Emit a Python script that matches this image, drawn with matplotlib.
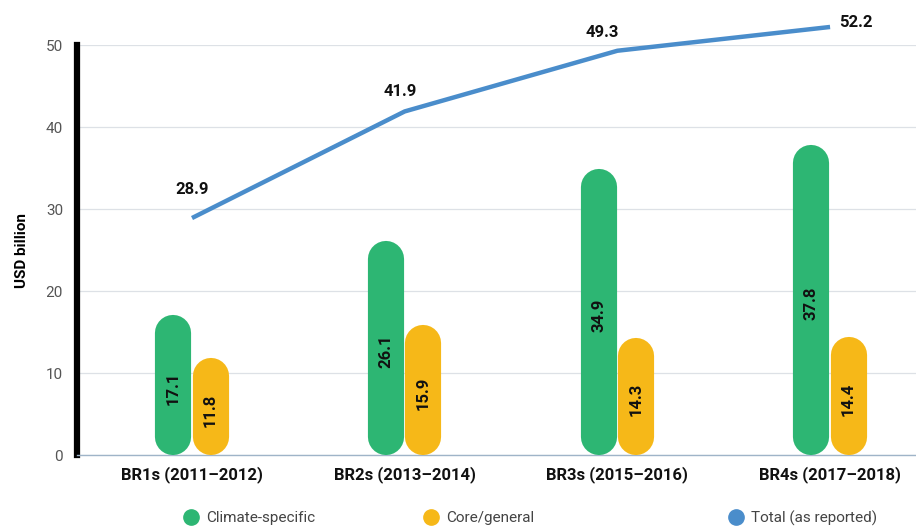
import numpy as np
import matplotlib.pyplot as plt
from matplotlib.lines import Line2D

# --- DATA ---
categories = ['BR1s (2011\u20132012)', 'BR2s (2013\u20132014)',
              'BR3s (2015\u20132016)', 'BR4s (2017\u20132018)']
climate_specific = [17.1, 26.1, 34.9, 37.8]
core_general = [11.8, 15.9, 14.3, 14.4]
total_reported = [28.9, 41.9, 49.3, 52.2]
legend_labels = ['Climate-specific', 'Core/general', 'Total (as reported)']

GREEN = '#2db673'
YELLOW = '#f6b818'
BLUE = '#4a8dcb'

plt.rcParams['font.family'] = ['Roboto', 'DejaVu Sans']

fig = plt.figure(figsize=(9.16, 5.27), dpi=100)
ax = fig.add_axes([0.084, 0.1366, 0.916, 0.778])

x = np.arange(len(categories))
ax.set_xlim(-0.541, 3.404)
ax.set_ylim(0, 50)

# pixel scales, so the bars can be drawn as round-capped thick lines
px_per_x = ax.transData.transform((1, 0))[0] - ax.transData.transform((0, 0))[0]
px_per_y = ax.transData.transform((0, 1))[1] - ax.transData.transform((0, 0))[1]

bar_w = 0.17
gap = 0.005
lw_pt = bar_w * px_per_x * 72 / fig.dpi
cap = bar_w / 2 * px_per_x / px_per_y  # cap radius in y units

for xi, g, c in zip(x, climate_specific, core_general):
    for val, xc, col in [(g, xi - bar_w / 2 - gap / 2, GREEN), (c, xi + bar_w / 2 + gap / 2, YELLOW)]:
        ax.plot([xc, xc], [cap, val - cap], color=col, lw=lw_pt,
                solid_capstyle='round', zorder=3)
        ax.text(xc, val / 2 - 0.4, f'{val}', rotation=90, ha='center', va='center',
                fontsize=12, fontweight='bold', color='#111111', zorder=4)

ax.plot(x, total_reported, color=BLUE, lw=3.2, zorder=5, clip_on=False,
        solid_capstyle='butt')

label_offsets = [(0, 3.5), (-0.02, 2.4), (-0.07, 2.2), (0.12, 0.6)]
for xi, v, (dx, dy) in zip(x, total_reported, label_offsets):
    ax.text(xi + dx, v + dy, f'{v}', ha='center', va='center', fontsize=12,
            fontweight='bold', color='#111111', clip_on=False)

ax.set_yticks(range(0, 51, 10))
ax.set_xticks(x)
ax.set_xticklabels(categories, fontsize=12, fontweight='bold', color='#111111')
ax.tick_params(axis='both', length=0)
ax.tick_params(axis='y', labelcolor='#555555', labelsize=11, pad=10)
ax.tick_params(axis='x', pad=8)
ax.set_ylabel('USD billion', fontsize=11, fontweight='bold', labelpad=12)
ax.grid(axis='y', color='#dde1e6', lw=0.9, zorder=0)
ax.set_axisbelow(True)

for s in ['top', 'right']:
    ax.spines[s].set_visible(False)
ax.spines['left'].set_linewidth(4.5)
ax.spines['left'].set_color('black')
ax.spines['bottom'].set_color('#9fb4c8')
ax.spines['bottom'].set_linewidth(1)

# legend entries placed individually at the bottom
legend_x = [183, 423, 728]  # pixel positions of the markers' left side
for lab, col, lx in zip(legend_labels, [GREEN, YELLOW, BLUE], legend_x):
    h = Line2D([], [], marker='o', ls='none', ms=11, color=col, label=lab)
    fig.legend(handles=[h], loc='center left', bbox_to_anchor=(lx / 916, 9 / 527),
               frameon=False, fontsize=11, handlelength=1, handletextpad=0.5,
               borderpad=0, borderaxespad=0, labelcolor='#444444')

fig.savefig('out.png', dpi=100)
